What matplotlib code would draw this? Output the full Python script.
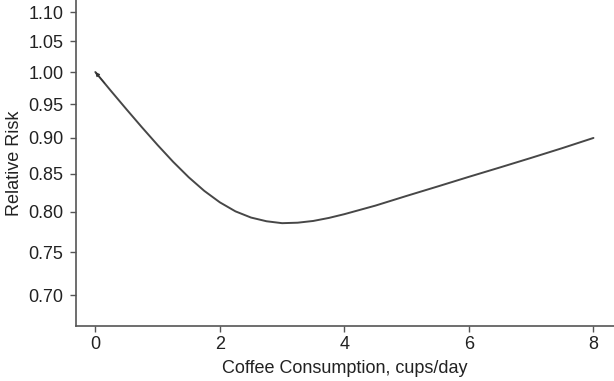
import matplotlib
matplotlib.use("Agg")
import matplotlib.pyplot as plt
from matplotlib.ticker import FixedLocator, NullLocator, FixedFormatter

# values
cups = [0, 0.25, 0.5, 0.75, 1.0, 1.25, 1.5, 1.75, 2.0, 2.25, 2.5, 2.75, 3.0,
        3.25, 3.5, 3.75, 4.0, 4.5, 5.0, 5.5, 6.0, 6.5, 7.0, 7.5, 8.0]
rr = [1.000, 0.9704, 0.9422, 0.9153, 0.8899, 0.8663, 0.8452, 0.8270, 0.8120,
      0.8004, 0.7925, 0.7878, 0.7854, 0.7860, 0.7882, 0.7920, 0.7968, 0.8078,
      0.8204, 0.8329, 0.8458, 0.8586, 0.8718, 0.8855, 0.9000]

yticks = [0.70, 0.75, 0.80, 0.85, 0.90, 0.95, 1.00, 1.05, 1.10]
xticks = [0, 2, 4, 6, 8]

plt.rcParams['font.family'] = ['Liberation Sans', 'DejaVu Sans']

fig = plt.figure(figsize=(6.14, 3.81), dpi=100)
ax = fig.add_axes([0.1238, 0.1444, 0.8762, 0.8556])

ax.plot(cups, rr, color='#474747', lw=1.4, solid_capstyle='round')
# small arrow head near the start of the curve
ax.annotate('', xy=(cups[0], rr[0]), xytext=(cups[1] * 0.6, 1 - (1 - rr[1]) * 0.6),
            arrowprops=dict(arrowstyle='-|>', color='#333333', lw=0.8,
                            mutation_scale=6, shrinkA=0, shrinkB=0))

ax.set_yscale('log')
ax.set_ylim(0.6664, 1.122)
ax.set_xlim(-0.31, 8.33)

ax.yaxis.set_major_locator(FixedLocator(yticks))
ax.yaxis.set_major_formatter(FixedFormatter([f"{v:.2f}" for v in yticks]))
ax.yaxis.set_minor_locator(NullLocator())
ax.set_xticks(xticks)

for s in ['top', 'right']:
    ax.spines[s].set_visible(False)
for s in ['left', 'bottom']:
    ax.spines[s].set_color('#555555')
    ax.spines[s].set_linewidth(1.2)

ax.tick_params(axis='both', direction='out', length=4.5, width=1.0,
               color='#555555', labelsize=13, labelcolor='#222222')
ax.tick_params(axis='y', pad=4.5)
ax.tick_params(axis='x', pad=3)

ax.set_xlabel('Coffee Consumption, cups/day', fontsize=13, color='#222222', labelpad=5)
ax.set_ylabel('Relative Risk', fontsize=13, color='#222222', labelpad=4)

fig.savefig('out.png', dpi=100)
